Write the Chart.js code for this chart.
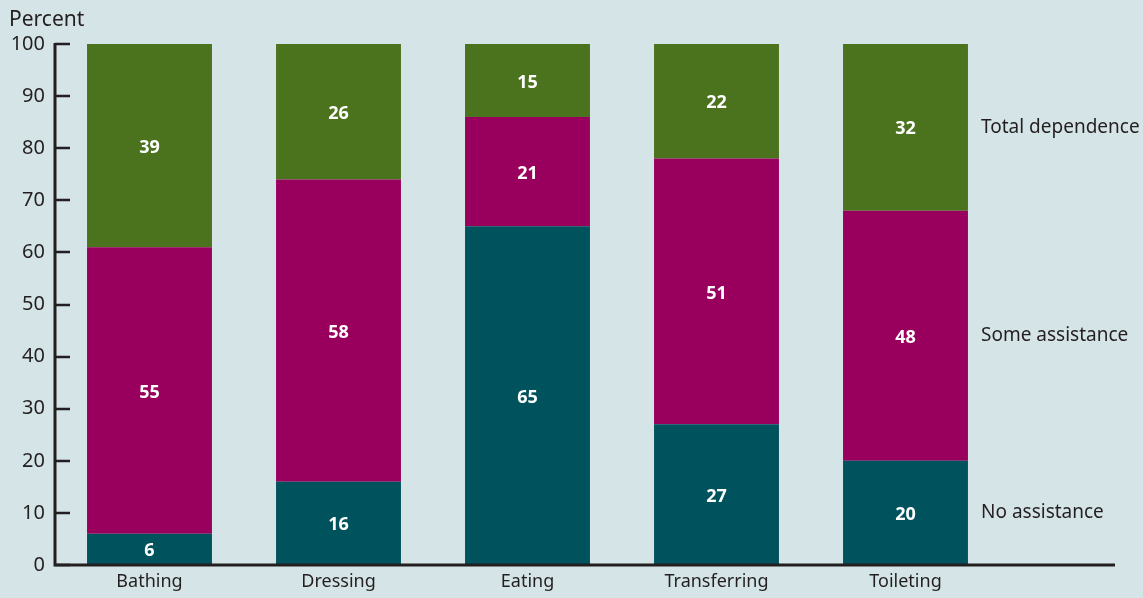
<!DOCTYPE html>
<html>
<head>
<meta charset="utf-8">
<script src="https://cdn.jsdelivr.net/npm/chart.js@4.4.1/dist/chart.umd.min.js"></script>
<style>
  html, body { margin: 0; padding: 0; background: #d5e4e7; }
  #wrap { width: 1143px; height: 598px; position: relative; }
</style>
</head>
<body>
<div id="wrap"><canvas id="myChart" width="1143" height="598"></canvas></div>
<script>
let activities = ['Bathing', 'Dressing', 'Eating', 'Transferring', 'Toileting'];
let noAssistance = [6, 16, 65, 27, 20];
let someAssistance = [55, 58, 21, 51, 48];
let totalDependence = [39, 26, 15, 22, 32];
let seriesNames = ['No assistance', 'Some assistance', 'Total dependence'];
let yTicks = [0, 10, 20, 30, 40, 50, 60, 70, 80, 90, 100];

const ink = '#231f20';
const fontFam = '"Noto Sans", "Open Sans", sans-serif';

// axis lines, inward ticks, the "Percent" caption and labels inside/next to the bars
const decorations = {
  id: 'decorations',
  afterDatasetsDraw(chart) {
    const c = chart.ctx;
    const area = chart.chartArea;
    const y = chart.scales.y;
    c.save();
    c.strokeStyle = ink;
    c.lineWidth = 3;
    c.beginPath();
    c.moveTo(area.left, y.getPixelForValue(100) - 1);
    c.lineTo(area.left, area.bottom);
    c.lineTo(1115, area.bottom);
    c.stroke();
    c.lineWidth = 2.5;
    yTicks.forEach(v => {
      let py = Math.round(y.getPixelForValue(v));
      c.beginPath();
      c.moveTo(area.left, py);
      c.lineTo(area.left + 15, py);
      c.stroke();
    });

    c.fillStyle = ink;
    c.font = '21px ' + fontFam;
    c.textAlign = 'left';
    c.textBaseline = 'alphabetic';
    c.fillText('Percent', 9, 26);

    // value labels, centred in the visible part of each segment
    c.fillStyle = '#ffffff';
    c.font = 'bold 18px ' + fontFam;
    c.textAlign = 'center';
    c.textBaseline = 'middle';
    chart.data.datasets.forEach((ds, i) => {
      chart.getDatasetMeta(i).data.forEach((bar, j) => {
        let top = Math.max(bar.y, area.top);
        let bottom = Math.min(bar.base, area.bottom);
        c.fillText(String(ds.data[j]), bar.x, (top + bottom) / 2 + 2);
      });
    });

    // series names beside the last bar
    c.fillStyle = ink;
    c.font = '19px ' + fontFam;
    c.textAlign = 'left';
    const last = activities.length - 1;
    chart.data.datasets.forEach((ds, i) => {
      let bar = chart.getDatasetMeta(i).data[last];
      let top = Math.max(bar.y, area.top);
      let bottom = Math.min(bar.base, area.bottom);
      c.fillText(ds.label, 981, (top + bottom) / 2);
    });
    c.restore();
  }
};

var ctx = document.getElementById('myChart').getContext('2d');
var myChart = new Chart(ctx, {
  type: 'bar',
  data: {
    labels: activities,
    datasets: [{
      label: seriesNames[0],
      data: noAssistance,
      backgroundColor: '#00525c'
    },
    {
      label: seriesNames[1],
      data: someAssistance,
      backgroundColor: '#99005e'
    },
    {
      label: seriesNames[2],
      data: totalDependence,
      backgroundColor: '#4b731e'
    }]
  },
  options: {
    responsive: false,
    animation: false,
    layout: { padding: { top: 44, right: 143, left: 0, bottom: 0 } },
    plugins: {
      legend: { display: false },
      tooltip: { enabled: false }
    },
    datasets: {
      bar: { categoryPercentage: 1, barPercentage: 0.661, borderWidth: 0 }
    },
    scales: {
      x: {
        stacked: true,
        grid: { display: false, drawTicks: false },
        border: { display: false },
        ticks: { color: ink, font: { family: fontFam, size: 18 }, padding: 6 },
        afterFit(scale) { scale.height = 33; }
      },
      y: {
        stacked: true,
        min: 0,
        max: 100,
        afterBuildTicks(scale) { scale.ticks = yTicks.map(v => ({ value: v })); },
        grid: { display: false, drawTicks: false },
        border: { display: false },
        ticks: { color: ink, font: { family: fontFam, size: 20 }, padding: 10 },
        afterFit(scale) { scale.width = 55; }
      }
    }
  },
  plugins: [decorations]
});
</script>
</body>
</html>
